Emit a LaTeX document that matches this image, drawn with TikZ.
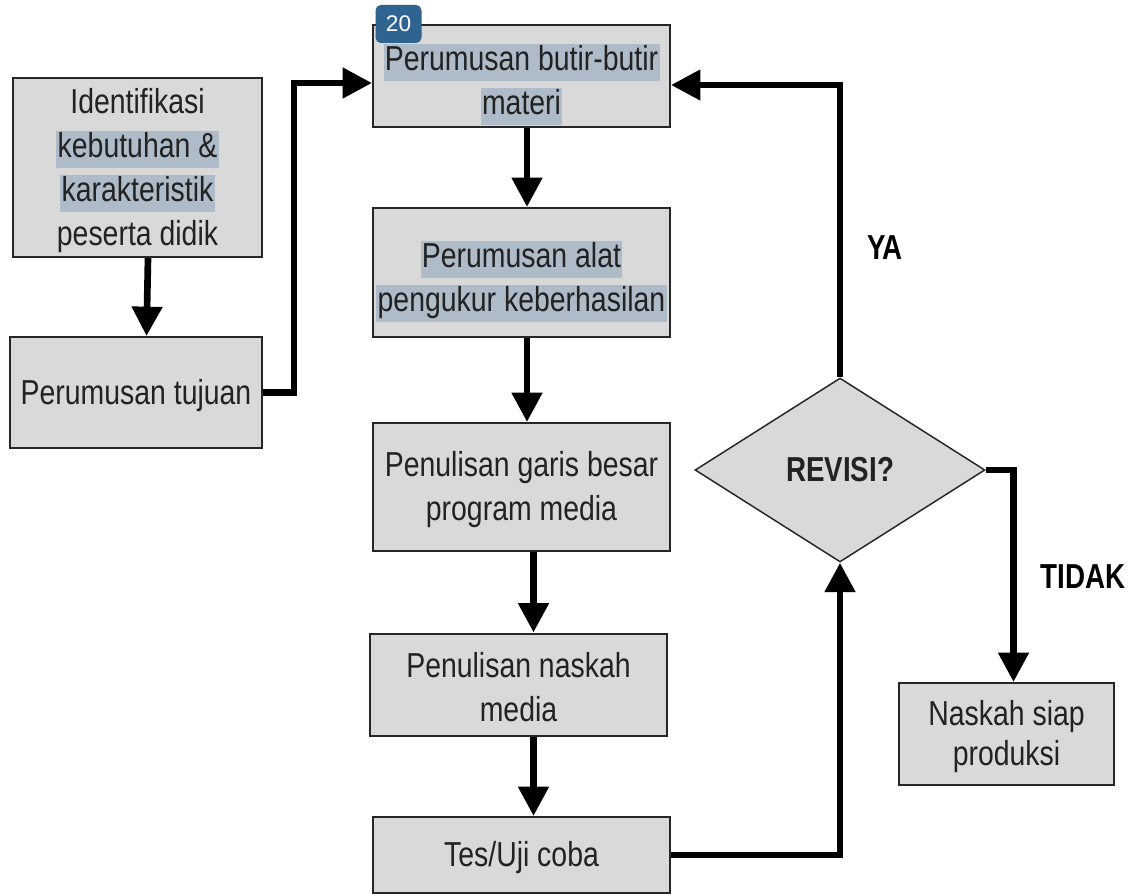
\documentclass[tikz,border=0pt]{standalone}
\usepackage{fontspec}
\setmainfont{Liberation Sans}[FakeStretch=0.82]
\newfontfamily\badgefont{Liberation Sans}
\newfontfamily\boldcond{Liberation Sans Bold}[FakeStretch=0.8]
\usetikzlibrary{arrows.meta,shapes.geometric,calc}
\definecolor{boxfill}{HTML}{D9D9D9}
\definecolor{hlc}{HTML}{AEBBC8}
\definecolor{badgeblue}{HTML}{2F6390}
\definecolor{txt}{HTML}{222222}
\newcommand\hlx[1]{{\setlength{\fboxsep}{1pt}\colorbox{hlc}{\rule[-7pt]{0pt}{26pt}#1}}}
\tikzset{
  stepbox/.style={draw=black!85, line width=1.5pt, fill=boxfill, text=txt,
    align=center, inner sep=0pt, font=\fontsize{26}{33}\selectfont},
  decbox/.style={diamond, draw=black!85, line width=1.1pt, fill=boxfill, text=txt,
    inner sep=0pt, minimum width=217.5pt, minimum height=138pt, aspect=1.576,
    font=\boldcond\fontsize{26}{32}\selectfont},
  conn/.style={line width=5pt, -{Triangle[width=22pt,length=22pt]}},
  lbl/.style={text=black, font=\boldcond\fontsize{26}{32}\selectfont, inner sep=0pt},
  badgebox/.style={fill=badgeblue, rounded corners=4pt, text=white, inner sep=0pt,
    minimum width=34.5pt, minimum height=28.5pt, font=\badgefont\fontsize{17}{20}\selectfont}
}
\begin{document}
\begin{tikzpicture}[x=0.75pt,y=-0.75pt]
\useasboundingbox (0,0) rectangle (1130,895);
\fill[white] (0,0) rectangle (1130,895);

\node[stepbox, minimum width=186.75pt, minimum height=134.25pt] (id) at (137.5,167.5)
  {\rule{0pt}{23pt}Identifikasi\\\hlx{kebutuhan \&}\\\hlx{karakteristik}\\peserta didik};
\node[stepbox, minimum width=189pt, minimum height=83.25pt] (tuj) at (136,392.5)
  {\rule{0pt}{23pt}Perumusan tujuan};
\node[stepbox, minimum width=222.75pt, minimum height=76.5pt] (top) at (521.5,76)
  {\rule{0pt}{33pt}\hlx{Perumusan butir-butir}\\\hlx{materi}};
\node[stepbox, minimum width=222.75pt, minimum height=96.75pt] (alat) at (521.5,272.5)
  {\rule{0pt}{33pt}\hlx{Perumusan alat}\\\hlx{pengukur keberhasilan}};
\node[stepbox, minimum width=222.75pt, minimum height=96pt] (garis) at (521.5,487)
  {\rule{0pt}{23pt}Penulisan garis besar\\program media};
\node[stepbox, minimum width=222.75pt, minimum height=76.5pt] (nask) at (518.5,684.5)
  {\rule{0pt}{23pt}Penulisan naskah\\media};
\node[stepbox, minimum width=222.75pt, minimum height=57pt] (tes) at (521.5,855)
  {\rule{0pt}{23pt}Tes/Uji coba};
\node[decbox] (rev) at (840,470) {REVISI?};
\node[stepbox, minimum width=161.25pt, minimum height=76.5pt, font=\fontsize{26}{30}\selectfont] (siap) at (1006.5,734)
  {\rule{0pt}{23pt}Naskah siap\\produksi};

\node[lbl] (ya) at (885,248) {YA};
\node[lbl] (tidak) at (1083,577) {TIDAK};

\draw[conn] ($(id.south)+(10.5,0)$) -- ($(tuj.north)+(10.5,0)$);
\draw[conn] (tuj.east) -- ++(31,0) |- ($(top.west)+(0,7)$);
\draw[conn] ($(top.south)+(5.5,0)$) -- ($(alat.north)+(5.5,0)$);
\draw[conn] ($(alat.south)+(5.5,0)$) -- ($(garis.north)+(5.5,0)$);
\draw[conn] ($(garis.south)+(12,0)$) -- ($(nask.north)+(15,0)$);
\draw[conn] ($(nask.south)+(15,0)$) -- ($(tes.north)+(12,0)$);
\draw[conn] (tes.east) -| (rev.south);
\draw[conn] (rev.north) |- ($(top.east)+(0,9)$);
\draw[conn] (rev.east) -| ($(siap.north)+(7,0)$);

\node[badgebox] (b20) at (398.5,24) {20};
\end{tikzpicture}
\end{document}
